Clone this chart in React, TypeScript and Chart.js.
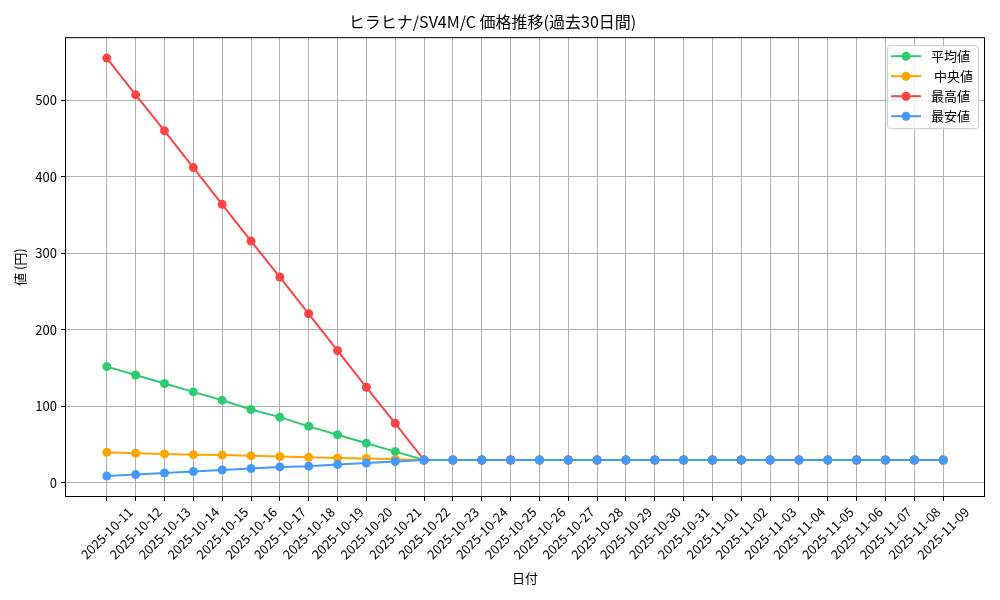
import { useEffect, useRef } from "react";
import { Chart, registerables } from "chart.js";

Chart.register(...registerables);

const FONT = "'Noto Sans CJK JP', 'Noto Sans', sans-serif";

const dates = [
  "2025-10-11", "2025-10-12", "2025-10-13", "2025-10-14", "2025-10-15", "2025-10-16",
  "2025-10-17", "2025-10-18", "2025-10-19", "2025-10-20", "2025-10-21", "2025-10-22",
  "2025-10-23", "2025-10-24", "2025-10-25", "2025-10-26", "2025-10-27", "2025-10-28",
  "2025-10-29", "2025-10-30", "2025-10-31", "2025-11-01", "2025-11-02", "2025-11-03",
  "2025-11-04", "2025-11-05", "2025-11-06", "2025-11-07", "2025-11-08", "2025-11-09",
];

const avgPrice = [152, 141, 130, 119, 108, 96, 86, 74, 63, 52, 41, 30, 30, 30, 30, 30, 30, 30, 30, 30, 30, 30, 30, 30, 30, 30, 30, 30, 30, 30];
const medianPrice = [40, 39, 38, 37, 36.5, 35.5, 34.5, 33.5, 32.5, 32, 31, 30, 30, 30, 30, 30, 30, 30, 30, 30, 30, 30, 30, 30, 30, 30, 30, 30, 30, 30];
const maxPrice = [555, 507, 460, 412, 364, 316, 269, 221, 173, 125, 78, 30, 30, 30, 30, 30, 30, 30, 30, 30, 30, 30, 30, 30, 30, 30, 30, 30, 30, 30];
const minPrice = [9, 11, 13, 15, 17, 19, 21, 22, 24, 26, 28, 30, 30, 30, 30, 30, 30, 30, 30, 30, 30, 30, 30, 30, 30, 30, 30, 30, 30, 30];

const yTicks = [0, 100, 200, 300, 400, 500];

const series = [
  { label: "平均値", data: avgPrice, color: "#2ECC71", order: 3 },
  { label: " 中央値", data: medianPrice, color: "#FFA500", order: 2 },
  { label: "最高値", data: maxPrice, color: "#FF4444", order: 1 },
  { label: "最安値", data: minPrice, color: "#4499FF", order: 0 },
];

// matplotlib-style extras: full box, centered rotated date labels, inset legend
const extrasPlugin = {
  id: "extras",
  afterDraw(chart: any) {
    const { ctx, chartArea } = chart;
    const xScale = chart.scales.x;
    ctx.save();
    ctx.strokeStyle = "#000";
    ctx.lineWidth = 1;
    ctx.strokeRect(chartArea.left + 0.5, chartArea.top + 0.5, chartArea.right - chartArea.left - 1, chartArea.bottom - chartArea.top - 1);

    ctx.font = `13px ${FONT}`;
    ctx.fillStyle = "#000";
    ctx.textAlign = "center";
    ctx.textBaseline = "middle";
    const s = Math.SQRT1_2;
    dates.forEach((d, i) => {
      const x = xScale.getPixelForValue(i);
      const w = ctx.measureText(d).width;
      const bh = (w + 13) * s;
      ctx.save();
      ctx.translate(x, chartArea.bottom + 8 + bh / 2);
      ctx.rotate(-Math.PI / 4);
      ctx.fillText(d, 0, 0);
      ctx.restore();
    });

    const bw = 91, bhh = 83;
    const left = chartArea.right - 7 - bw;
    const top = chartArea.top + 8;
    ctx.beginPath();
    ctx.roundRect(left + 0.5, top + 0.5, bw, bhh, 3);
    ctx.fillStyle = "rgba(255,255,255,0.8)";
    ctx.fill();
    ctx.strokeStyle = "#cccccc";
    ctx.stroke();
    ctx.textAlign = "left";
    series.forEach((sr, i) => {
      const y = top + 11 + i * 20;
      ctx.strokeStyle = sr.color;
      ctx.lineWidth = 2;
      ctx.beginPath();
      ctx.moveTo(left + 4, y);
      ctx.lineTo(left + 34, y);
      ctx.stroke();
      ctx.fillStyle = sr.color;
      ctx.beginPath();
      ctx.arc(left + 19, y, 4.5, 0, Math.PI * 2);
      ctx.fill();
      ctx.fillStyle = "#000";
      ctx.fillText(sr.label, left + 44, y);
    });
    ctx.restore();
  },
};

function PriceChart() {
  const canvasRef = useRef<HTMLCanvasElement>(null);
  const chartRef = useRef<Chart | null>(null);

  useEffect(() => {
    document.body.style.margin = "0";
    if (!canvasRef.current) return;
    if (chartRef.current) chartRef.current.destroy();
    const ctx = canvasRef.current.getContext("2d");
    if (!ctx) return;

    const all = [...avgPrice, ...medianPrice, ...maxPrice, ...minPrice];
    const lo = Math.min(...all), hi = Math.max(...all);
    const pad = (hi - lo) * 0.05;
    const xPad = (dates.length - 1) * 0.05;

    chartRef.current = new Chart(ctx, {
      type: "line",
      data: {
        datasets: series.map((sr) => ({
          label: sr.label,
          data: sr.data.map((v, i) => ({ x: i, y: v })),
          borderColor: sr.color,
          backgroundColor: sr.color,
          borderWidth: 2,
          pointRadius: 4.5,
          pointBorderWidth: 0,
          pointBackgroundColor: sr.color,
          tension: 0,
          fill: false,
          order: sr.order,
        })),
      },
      options: {
        animation: false,
        responsive: true,
        maintainAspectRatio: false,
        layout: { padding: { left: 0, right: 15, top: 0, bottom: 0 } },
        plugins: {
          legend: { display: false },
          tooltip: { enabled: false },
          title: {
            display: true,
            text: "ヒラヒナ/SV4M/C 価格推移(過去30日間)",
            color: "#000",
            font: { family: FONT, size: 16, weight: "normal" as const },
            padding: { top: 12, bottom: 6 },
          },
        },
        scales: {
          x: {
            type: "linear",
            min: -xPad,
            max: dates.length - 1 + xPad,
            afterBuildTicks: (scale: any) => { scale.ticks = dates.map((_, i) => ({ value: i })); },
            afterFit: (scale: any) => { scale.height = 103; },
            ticks: { display: false },
            grid: { color: "#b0b0b0", lineWidth: 1, tickColor: "#000", tickLength: 4 },
            border: { display: false },
            title: { display: true, text: "日付", color: "#000", font: { family: FONT, size: 13 }, padding: { top: 0, bottom: 14 } },
          },
          y: {
            type: "linear",
            min: lo - pad,
            max: hi + pad,
            afterBuildTicks: (scale: any) => { scale.ticks = yTicks.map((v) => ({ value: v })); },
            afterFit: (scale: any) => { scale.width = 65; },
            ticks: { color: "#000", font: { family: FONT, size: 13 }, padding: 4 },
            grid: { color: "#b0b0b0", lineWidth: 1, tickColor: "#000", tickLength: 4 },
            border: { display: false },
            title: { display: true, text: "値 (円)", color: "#000", font: { family: FONT, size: 13 }, padding: { top: 12, bottom: 0 } },
          },
        },
      },
      plugins: [extrasPlugin],
    });

    return () => { if (chartRef.current) chartRef.current.destroy(); };
  }, []);

  return (
    <div style={{ position: "relative", width: 1000, height: 600 }}>
      <canvas ref={canvasRef} />
    </div>
  );
}

export default function App() {
  return <PriceChart />;
}
